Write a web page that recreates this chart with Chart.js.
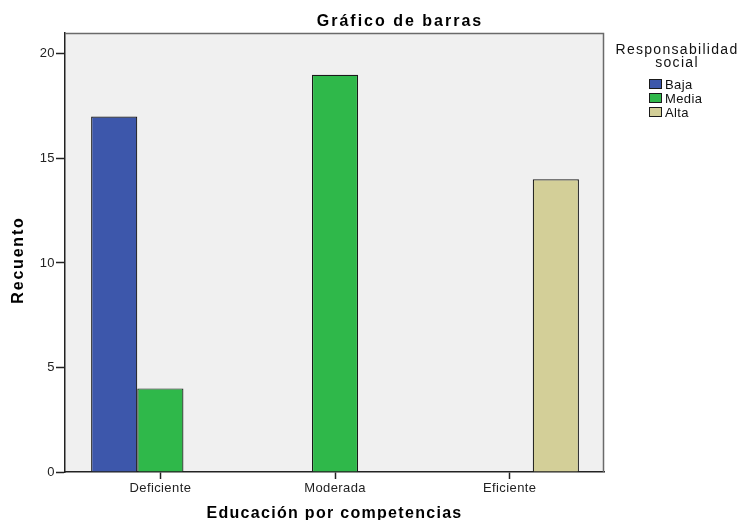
<!DOCTYPE html>
<html>
<head>
<meta charset="utf-8">
<script src="https://cdn.jsdelivr.net/npm/chart.js@4.4.0/dist/chart.umd.min.js"></script>
<style>
  html, body { margin: 0; padding: 0; background: #ffffff; }
  #wrap { position: relative; width: 739px; height: 520px; }
</style>
</head>
<body>
<div id="wrap"><canvas id="c" width="739" height="520"></canvas></div>
<script>
const categories = ['Deficiente', 'Moderada', 'Eficiente'];
const seriesNames = ['Baja', 'Media', 'Alta'];
const baja = [17, 0, 0];
const media = [4, 19, 0];
const alta = [0, 0, 14];
const yTicks = [0, 5, 10, 15, 20];
const chartTitle = 'Gráfico de barras';
const xTitle = 'Educación por competencias';
const yTitle = 'Recuento';
const legendTitle = ['Responsabilidad', 'social'];

const colors = ['#3d57ab', '#2fb84a', '#d3cf98'];
const FONT = '"Liberation Sans", Arial, sans-serif';

function toPoints(arr) {
  return arr.map((v, i) => ({ x: i, y: v === 0 ? null : v }));
}

const titlesPlugin = {
  id: 'titles',
  beforeDraw(chart) {
    const ctx = chart.ctx;
    const a = chart.chartArea;
    ctx.save();
    ctx.fillStyle = '#f0f0f0';
    ctx.fillRect(a.left, a.top, a.right - a.left, a.bottom - a.top);
    ctx.restore();
    ctx.letterSpacing = '0.4px';
  },
  afterDraw(chart) {
    const ctx = chart.ctx;
    const a = chart.chartArea;
    ctx.save();
    // plot frame top/right
    ctx.strokeStyle = '#6a6a6a';
    ctx.lineWidth = 1.5;
    ctx.beginPath();
    ctx.moveTo(a.left, a.top + 0.5);
    ctx.lineTo(a.right - 0.5, a.top + 0.5);
    ctx.lineTo(a.right - 0.5, a.bottom);
    ctx.stroke();

    ctx.fillStyle = '#000';
    ctx.textBaseline = 'alphabetic';
    ctx.textAlign = 'center';
    // main title
    ctx.font = 'bold 16px ' + FONT;
    ctx.letterSpacing = '2px';
    ctx.fillText(chartTitle, 400, 26);
    // x title
    ctx.letterSpacing = '1.3px';
    ctx.fillText(xTitle, (a.left + a.right) / 2, 518);
    // y title
    ctx.save();
    ctx.translate(23, 260);
    ctx.rotate(-Math.PI / 2);
    ctx.letterSpacing = '1.8px';
    ctx.fillText(yTitle, 0, 0);
    ctx.restore();

    // legend
    ctx.font = '14px ' + FONT;
    ctx.letterSpacing = '1.3px';
    ctx.fillStyle = '#111';
    ctx.fillText(legendTitle[0], 677, 54);
    ctx.fillText(legendTitle[1], 677, 67);
    ctx.textAlign = 'left';
    ctx.font = '13px ' + FONT;
    ctx.letterSpacing = '0.4px';
    chart.data.datasets.forEach((ds, i) => {
      const y = 79 + i * 14;
      ctx.fillStyle = ds.backgroundColor;
      ctx.fillRect(649, y, 13, 10);
      ctx.strokeStyle = '#1a1a1a';
      ctx.lineWidth = 1;
      ctx.strokeRect(649.5, y + 0.5, 12, 9);
      ctx.fillStyle = '#111';
      ctx.fillText(ds.label, 665, y + 10);
    });
    ctx.restore();
    ctx.letterSpacing = '0px';
  }
};

const datasets = [baja, media, alta].map((arr, i) => ({
  label: seriesNames[i],
  data: toPoints(arr),
  backgroundColor: colors[i],
  borderColor: '#1a1a1a',
  borderWidth: 1.2,
  borderSkipped: 'bottom',
  categoryPercentage: 0.793,
  barPercentage: 1.0
}));

new Chart(document.getElementById('c'), {
  type: 'bar',
  data: { datasets },
  plugins: [titlesPlugin],
  options: {
    responsive: false,
    animation: false,
    devicePixelRatio: 1,
    layout: { padding: { top: 33, right: 135, left: 0, bottom: 0 } },
    plugins: { legend: { display: false }, title: { display: false }, tooltip: { enabled: false } },
    scales: {
      x: {
        type: 'linear',
        min: -0.546,
        max: 2.540,
        offset: false,
        afterBuildTicks(scale) { scale.ticks = categories.map((c, i) => ({ value: i })); },
        afterFit(scale) { scale.height = 48; },
        ticks: {
          callback: (v) => categories[v],
          font: { family: FONT, size: 13 },
          color: '#222',
          padding: 2,
          maxRotation: 0,
          autoSkip: false
        },
        grid: { offset: false, drawOnChartArea: false, drawTicks: true, tickLength: 7, tickColor: '#222', tickWidth: 1.5 },
        border: { display: true, color: '#222', width: 1.5 }
      },
      y: {
        min: 0,
        max: 21,
        afterBuildTicks(scale) { scale.ticks = yTicks.map(v => ({ value: v })); },
        afterFit(scale) { scale.width = 65; },
        ticks: {
          font: { family: FONT, size: 13 },
          color: '#222',
          padding: 1
        },
        grid: { offset: false, drawOnChartArea: false, drawTicks: true, tickLength: 9, tickColor: '#222', tickWidth: 1.5 },
        border: { display: true, color: '#222', width: 1.5 }
      }
    }
  }
});
</script>
</body>
</html>
